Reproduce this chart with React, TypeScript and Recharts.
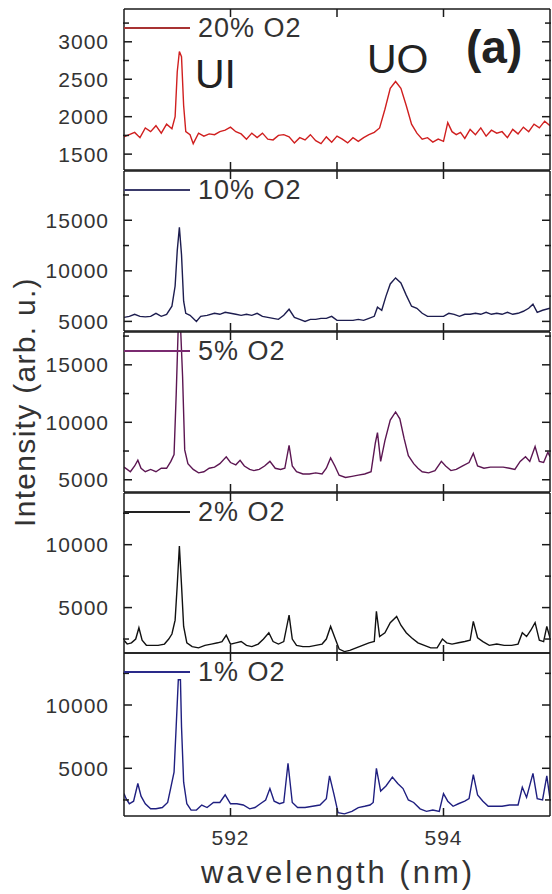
import { LineChart, Line, XAxis, YAxis } from "recharts";

// wavelength (nm), intensity (arb. u.)
const O2_20: [number, number][] = [
  [591.0, 1730], [591.05, 1760], [591.1, 1790], [591.15, 1720], [591.2, 1850], [591.25, 1800],
  [591.3, 1880], [591.35, 1780], [591.4, 1900], [591.45, 1840], [591.48, 2000], [591.5, 2600],
  [591.52, 2870], [591.54, 2800], [591.56, 2150], [591.58, 1800], [591.62, 1760], [591.65, 1640],
  [591.7, 1780], [591.75, 1740], [591.8, 1770], [591.85, 1760], [591.9, 1800], [591.95, 1820],
  [592.0, 1860], [592.05, 1800], [592.1, 1770], [592.15, 1700], [592.2, 1780], [592.25, 1720],
  [592.3, 1780], [592.35, 1700], [592.4, 1690], [592.45, 1750], [592.5, 1760], [592.55, 1730],
  [592.6, 1650], [592.65, 1720], [592.7, 1690], [592.75, 1760], [592.8, 1680], [592.85, 1640],
  [592.9, 1730], [592.95, 1660], [593.0, 1740], [593.05, 1700], [593.1, 1650], [593.15, 1720],
  [593.2, 1670], [593.25, 1720], [593.3, 1760], [593.35, 1790], [593.4, 1850], [593.45, 2100],
  [593.5, 2380], [593.55, 2470], [593.6, 2380], [593.65, 2150], [593.7, 1900], [593.75, 1780],
  [593.8, 1700], [593.85, 1720], [593.9, 1660], [593.95, 1700], [594.0, 1670], [594.04, 1920],
  [594.08, 1800], [594.12, 1760], [594.16, 1790], [594.2, 1710], [594.25, 1830], [594.3, 1760],
  [594.35, 1850], [594.4, 1740], [594.45, 1820], [594.5, 1780], [594.55, 1800], [594.6, 1720],
  [594.65, 1830], [594.7, 1770], [594.75, 1860], [594.8, 1800], [594.85, 1900], [594.9, 1850],
  [594.95, 1940], [595.0, 1880],
];

const O2_10: [number, number][] = [
  [591.0, 5400], [591.05, 5500], [591.1, 5700], [591.15, 5500], [591.2, 5450], [591.25, 5500],
  [591.3, 5800], [591.35, 5500], [591.4, 5700], [591.45, 6500], [591.48, 8500], [591.5, 12000],
  [591.52, 14300], [591.54, 11600], [591.56, 7000], [591.58, 5800], [591.62, 5600], [591.68, 5000],
  [591.72, 5500], [591.78, 5600], [591.85, 5800], [591.9, 5700], [591.95, 5900], [592.0, 5800],
  [592.05, 5700], [592.1, 5600], [592.15, 5700], [592.2, 5600], [592.25, 5800], [592.3, 5500],
  [592.35, 5400], [592.4, 5300], [592.45, 5200], [592.5, 5600], [592.55, 6200], [592.6, 5400],
  [592.65, 5200], [592.7, 5000], [592.75, 5200], [592.8, 5200], [592.85, 5300], [592.9, 5300],
  [592.95, 5500], [593.0, 5100], [593.05, 5100], [593.1, 5100], [593.15, 5100], [593.2, 5200],
  [593.25, 5100], [593.3, 5300], [593.35, 5500], [593.38, 6400], [593.42, 6100], [593.46, 7500],
  [593.5, 8700], [593.55, 9300], [593.6, 8800], [593.65, 7600], [593.7, 6500], [593.75, 6300],
  [593.8, 5800], [593.85, 5500], [593.9, 5500], [593.95, 5500], [594.0, 5500], [594.05, 5800],
  [594.1, 5700], [594.15, 5500], [594.2, 5700], [594.25, 5700], [594.3, 5800], [594.35, 5700],
  [594.4, 5900], [594.45, 5700], [594.5, 5800], [594.55, 5700], [594.6, 5900], [594.65, 5700],
  [594.7, 5800], [594.75, 6000], [594.8, 6300], [594.84, 6700], [594.88, 5900], [594.93, 6100],
  [595.0, 6300],
];

const O2_5: [number, number][] = [
  [591.0, 6100], [591.03, 5900], [591.06, 5700], [591.1, 6200], [591.13, 6700], [591.16, 6000],
  [591.2, 5700], [591.25, 5900], [591.3, 5700], [591.35, 6000], [591.4, 6000], [591.44, 6600],
  [591.47, 7200], [591.49, 12400], [591.51, 18500], [591.53, 18500], [591.55, 14000], [591.57, 7600],
  [591.6, 6400], [591.65, 5900], [591.7, 5600], [591.75, 5700], [591.8, 6000], [591.85, 6100],
  [591.9, 6400], [591.96, 7000], [592.0, 6500], [592.05, 6300], [592.09, 6700], [592.13, 6200],
  [592.18, 5900], [592.22, 5800], [592.27, 5900], [592.32, 6200], [592.37, 6600], [592.42, 6000],
  [592.47, 5900], [592.51, 6000], [592.55, 8000], [592.58, 6200], [592.62, 5700], [592.68, 5500],
  [592.74, 5500], [592.8, 5600], [592.86, 5500], [592.9, 6000], [592.94, 6900], [592.98, 6200],
  [593.02, 5400], [593.08, 5200], [593.14, 5300], [593.2, 5400], [593.26, 5500], [593.32, 5700],
  [593.36, 8200], [593.38, 9100], [593.41, 6600], [593.45, 8400], [593.5, 10200], [593.55, 10900],
  [593.59, 10300], [593.63, 8600], [593.67, 7100], [593.72, 6400], [593.76, 6000], [593.8, 5700],
  [593.86, 5600], [593.92, 5800], [593.98, 6600], [594.02, 6200], [594.07, 5800], [594.12, 5900],
  [594.18, 6200], [594.24, 6500], [594.28, 7300], [594.32, 6200], [594.38, 6000], [594.44, 6100],
  [594.5, 6100], [594.56, 6100], [594.62, 6000], [594.67, 5900], [594.72, 6600], [594.77, 7000],
  [594.81, 6600], [594.86, 7900], [594.9, 6600], [594.94, 6500], [594.98, 7400], [595.0, 7000],
];

const O2_2: [number, number][] = [
  [591.0, 2400], [591.03, 2100], [591.07, 2200], [591.11, 2500], [591.14, 3400], [591.17, 2400],
  [591.21, 2000], [591.26, 2000], [591.32, 2000], [591.38, 2100], [591.42, 2500], [591.45, 2900],
  [591.48, 4000], [591.5, 6800], [591.52, 9900], [591.54, 6800], [591.56, 3500], [591.59, 2200],
  [591.64, 1900], [591.7, 1800], [591.76, 2000], [591.82, 2100], [591.88, 2200], [591.92, 2300],
  [591.96, 2800], [592.0, 2100], [592.05, 2200], [592.1, 2300], [592.15, 2000], [592.2, 1900],
  [592.26, 2100], [592.31, 2500], [592.36, 3000], [592.4, 2300], [592.45, 2100], [592.5, 2300],
  [592.55, 4400], [592.58, 2500], [592.62, 2000], [592.68, 1900], [592.74, 1900], [592.8, 2000],
  [592.86, 2100], [592.9, 2500], [592.94, 3500], [592.98, 2600], [593.02, 1700], [593.07, 1500],
  [593.12, 1600], [593.18, 1800], [593.24, 2000], [593.3, 2200], [593.35, 2300], [593.37, 4700],
  [593.4, 2700], [593.45, 3000], [593.5, 3800], [593.56, 4300], [593.6, 3600], [593.65, 3000],
  [593.7, 2600], [593.76, 2200], [593.82, 2000], [593.88, 1800], [593.94, 1800], [593.99, 2500],
  [594.03, 2200], [594.08, 2100], [594.14, 2200], [594.2, 2300], [594.25, 2400], [594.28, 3900],
  [594.32, 2600], [594.37, 2300], [594.43, 2000], [594.5, 2100], [594.57, 2000], [594.64, 2000],
  [594.7, 2100], [594.74, 3000], [594.78, 2700], [594.82, 3200], [594.86, 3800], [594.9, 2400],
  [594.94, 2300], [594.97, 3500], [595.0, 2600],
];

const O2_1: [number, number][] = [
  [591.0, 3000], [591.02, 2600], [591.05, 2200], [591.09, 2400], [591.13, 3800], [591.16, 2800],
  [591.2, 2200], [591.25, 1800], [591.3, 1800], [591.36, 1900], [591.41, 2300], [591.44, 3500],
  [591.47, 4700], [591.49, 8300], [591.51, 12000], [591.53, 12000], [591.54, 8300], [591.56, 3900],
  [591.59, 2200], [591.63, 1700], [591.68, 1700], [591.73, 2100], [591.78, 1900], [591.84, 2300],
  [591.9, 2300], [591.95, 2900], [592.0, 2200], [592.06, 2200], [592.12, 2100], [592.18, 1800],
  [592.23, 1900], [592.28, 2200], [592.33, 2500], [592.37, 3400], [592.41, 2400], [592.46, 2200],
  [592.5, 2300], [592.54, 5400], [592.58, 2300], [592.63, 1900], [592.7, 1900], [592.77, 2000],
  [592.84, 2100], [592.9, 2600], [592.93, 4400], [592.97, 3000], [593.01, 1500], [593.07, 1400],
  [593.14, 1600], [593.2, 1900], [593.26, 2000], [593.31, 2100], [593.34, 2300], [593.37, 5000],
  [593.41, 3200], [593.46, 3600], [593.52, 4300], [593.57, 3800], [593.62, 3400], [593.67, 2500],
  [593.72, 2300], [593.78, 1800], [593.84, 1600], [593.9, 1700], [593.96, 1600], [594.0, 3000],
  [594.04, 2400], [594.09, 2000], [594.14, 2200], [594.2, 2400], [594.24, 2600], [594.28, 4500],
  [594.32, 2900], [594.37, 2400], [594.42, 2000], [594.48, 2000], [594.55, 2000], [594.62, 2100],
  [594.7, 2100], [594.74, 3500], [594.78, 2700], [594.84, 4600], [594.88, 2600], [594.93, 2500],
  [594.97, 4400], [595.0, 2600],
];

const X_DOMAIN: [number, number] = [591, 595];
const X_TICKS = [592, 593, 594];
const X_LABELED = [592, 594];

const W = 552;
const PLOT_L = 123;
const PLOT_R = 551;
const FRAME = "#1a1a1a";
const TEXT = "#333";
const FONT = "'Liberation Sans', Arial, sans-serif";
const MAJOR_LEN = 8;
const MINOR_LEN = 5;

interface Panel {
  name: string;
  data: [number, number][];
  color: string;
  legendColor: string;
  top: number;
  bottom: number;
  domain: [number, number];
  major: number[];
  minor: number[];
}

const panels: Panel[] = [
  { name: "20% O2", data: O2_20, color: "#d01f1f", legendColor: "#a83232", top: 9, bottom: 171,
    domain: [1288, 3438], major: [1500, 2000, 2500, 3000], minor: [1750, 2250, 2750, 3250] },
  { name: "10% O2", data: O2_10, color: "#1d1d4f", legendColor: "#3a3a6a", top: 171, bottom: 332,
    domain: [4050, 19870], major: [5000, 10000, 15000], minor: [7500, 12500, 17500] },
  { name: "5% O2", data: O2_5, color: "#5c1652", legendColor: "#7a2a70", top: 332, bottom: 493,
    domain: [3936, 17855], major: [5000, 10000, 15000], minor: [7500, 12500, 17500] },
  { name: "2% O2", data: O2_2, color: "#111111", legendColor: "#222222", top: 493, bottom: 654,
    domain: [1390, 14108], major: [5000, 10000], minor: [2500, 7500, 12500] },
  { name: "1% O2", data: O2_1, color: "#1f1f80", legendColor: "#2a2a8a", top: 653, bottom: 816,
    domain: [1232, 14108], major: [5000, 10000], minor: [2500, 7500, 12500] },
];

const noLabel = () => <g />;

const yLabel = (props: any) => (
  <text x={props.x - 15} y={props.y} dy="0.36em" textAnchor="end" fontSize={21}
    fontFamily={FONT} fill={TEXT} letterSpacing={1}>
    {props.payload.value}
  </text>
);

const xLabel = (props: any) =>
  X_LABELED.includes(props.payload.value) ? (
    <text x={props.x} y={props.y + 29} textAnchor="middle" fontSize={21} fontFamily={FONT}
      fill={TEXT} letterSpacing={1}>
      {props.payload.value}
    </text>
  ) : (
    <g />
  );

function PanelChart({ p, last }: { p: Panel; last: boolean }) {
  const bottomSpace = last ? 894 - p.bottom : 0;
  const rows = p.data.map(([wl, v]) => ({ wl, v }));
  const axisLine = { stroke: FRAME, strokeWidth: 1.5 };
  const tickLine = { stroke: FRAME, strokeWidth: 1.5 };
  // negative tickSize turns the ticks inward; tickMargin puts the label anchor back on the axis
  const common = { allowDataOverflow: true, interval: 0 as const, tickLine };
  return (
    <div style={{ position: "absolute", left: 0, top: p.top - 1 }}>
      <LineChart
        width={W}
        height={p.bottom - p.top + bottomSpace + 1}
        data={rows}
        margin={{ top: 0, right: W - PLOT_R - 1, bottom: Math.max(bottomSpace - 1, 0), left: PLOT_L - 1 }}
      >
        <XAxis xAxisId="b" dataKey="wl" type="number" domain={X_DOMAIN} ticks={X_TICKS} axisLine={axisLine}
          height={1} tickSize={-MAJOR_LEN} tickMargin={MAJOR_LEN} tick={last ? xLabel : noLabel} {...common} />
        <XAxis xAxisId="t" orientation="top" dataKey="wl" type="number" domain={X_DOMAIN} ticks={X_TICKS}
          axisLine={axisLine} height={1} tickSize={-MAJOR_LEN} tickMargin={MAJOR_LEN} tick={noLabel} {...common} />
        <YAxis yAxisId="l" type="number" domain={p.domain} ticks={p.major} width={1} axisLine={axisLine}
          tickSize={-MAJOR_LEN} tickMargin={MAJOR_LEN} tick={yLabel} {...common} />
        <YAxis yAxisId="lm" type="number" domain={p.domain} ticks={p.minor} width={1} axisLine={false}
          tickSize={-MINOR_LEN - 1} tickMargin={MINOR_LEN} tick={noLabel} {...common} />
        <YAxis yAxisId="r" orientation="right" type="number" domain={p.domain} ticks={p.major} width={1}
          axisLine={axisLine} tickSize={-MAJOR_LEN} tickMargin={MAJOR_LEN} tick={noLabel} {...common} />
        <YAxis yAxisId="rm" orientation="right" type="number" domain={p.domain} ticks={p.minor} width={1}
          axisLine={false} tickSize={-MINOR_LEN - 1} tickMargin={MINOR_LEN} tick={noLabel} {...common} />
        <Line xAxisId="b" yAxisId="l" type="linear" dataKey="v" stroke={p.color} strokeWidth={1.4}
          dot={false} isAnimationActive={false} />
      </LineChart>
    </div>
  );
}

export default function App() {
  return (
    <div style={{ position: "absolute", left: 0, top: 0, width: W, height: 894,
      overflow: "hidden", background: "#fff" }}>
      {panels.map((p, i) => (
        <PanelChart key={p.name} p={p} last={i === panels.length - 1} />
      ))}
      <svg width={W} height={894} style={{ position: "absolute", left: 0, top: 0, pointerEvents: "none" }}
        fontFamily={FONT}>
        {panels.map((p) => (
          <g key={p.name}>
            <line x1={124} x2={190} y1={p.top + 19} y2={p.top + 19} stroke={p.legendColor} strokeWidth={2} />
            <text x={198} y={p.top + 28} fontSize={27} fill={TEXT} letterSpacing={1}>{p.name}</text>
          </g>
        ))}
        <text x={195} y={88} fontSize={41} fill="#222">UI</text>
        <text x={367} y={73} fontSize={41} fill="#222">UO</text>
        <text x={466} y={63} fontSize={46} fontWeight="bold" fill="#222">(a)</text>
        <text x={338} y={883} textAnchor="middle" fontSize={31} fill={TEXT} letterSpacing={3}>
          wavelength (nm)
        </text>
        <text transform="translate(35,402) rotate(-90)" textAnchor="middle" fontSize={30} fill={TEXT}
          letterSpacing={1.3}>
          Intensity (arb. u.)
        </text>
      </svg>
    </div>
  );
}
